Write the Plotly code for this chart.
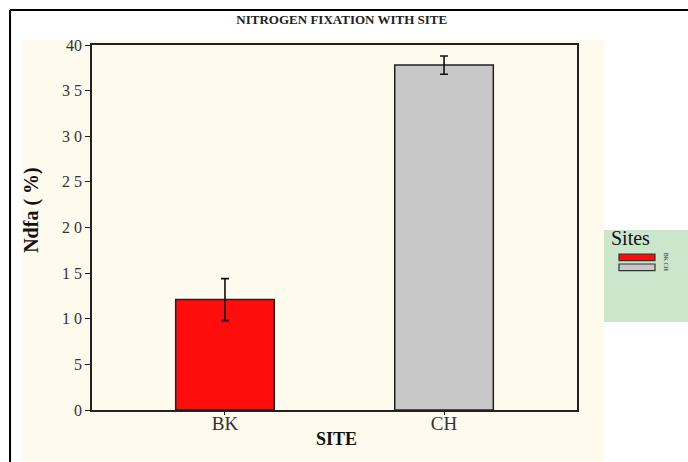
import plotly.graph_objects as go

# Ndfa by site
sites = ["BK", "CH"]
ndfa = [12.1, 37.8]
ndfa_err = [2.3, 1.0]
bar_colors = ["#FF0D0D", "#C8C8C8"]
y_tickvals = [0, 5, 10, 15, 20, 25, 30, 35, 40]
y_ticktext = ["0", "5", "1 0", "1 5", "2 0", "2 5", "3 0", "3 5", "40"]

serif = "Liberation Serif, Times New Roman, serif"

fig = go.Figure()
fig.add_trace(go.Bar(
    x=sites, y=ndfa, width=0.45,
    marker=dict(color=bar_colors, line=dict(color="#222222", width=1.5)),
    error_y=dict(type="data", array=ndfa_err, color="#111111", thickness=1.6, width=4),
    showlegend=False,
))

shapes = [
    # cream panel behind the chart
    dict(type="rect", xref="paper", yref="paper", x0=-0.144, x1=1.058, y0=-0.15, y1=1.0137,
         fillcolor="#FFF9EE", line=dict(width=0), layer="below"),
    # outer frame
    dict(type="line", xref="paper", yref="paper", x0=-0.169, x1=1.25, y0=1.0959, y1=1.0959,
         line=dict(color="black", width=2)),
    dict(type="line", xref="paper", yref="paper", x0=-0.169, x1=-0.169, y0=-0.15, y1=1.0959,
         line=dict(color="black", width=2)),
    # legend panel
    dict(type="rect", xref="paper", yref="paper", x0=1.0557, x1=1.25, y0=0.241, y1=0.493,
         fillcolor="#CBE6CB", line=dict(width=0)),
]
annotations = [
    dict(text="Sites", xref="paper", yref="paper", x=1.066, y=0.471, xanchor="left",
         yanchor="middle", showarrow=False,
         font=dict(family=serif, size=20, color="#111111")),
    dict(text="<b>Ndfa ( %)</b>", xref="paper", yref="paper", x=-0.124, y=0.548,
         xanchor="center", yanchor="middle", showarrow=False, textangle=-90,
         font=dict(family=serif, size=20, color="#111111")),
    dict(text="<b>SITE</b>", xref="paper", yref="paper", x=0.504, y=-0.08,
         xanchor="center", yanchor="middle", showarrow=False,
         font=dict(family=serif, size=18, color="#111111")),
]
sw_top = 0.427
for i, (s, c) in enumerate(zip(sites, bar_colors)):
    y1 = sw_top - i * 0.027
    y0 = y1 - 0.018
    shapes.append(dict(type="rect", xref="paper", yref="paper", x0=1.0866, x1=1.1608,
                       y0=y0, y1=y1, fillcolor=c, line=dict(color="#333333", width=1.2)))
    annotations.append(dict(text=s, xref="paper", yref="paper", x=1.183, y=(y0 + y1) / 2,
                            xanchor="center", yanchor="middle", showarrow=False,
                            textangle=90, font=dict(family=serif, size=6, color="#222222")))

fig.update_layout(
    width=688, height=462,
    margin=dict(l=92, r=111, t=45, b=52),
    paper_bgcolor="white",
    plot_bgcolor="#FFF9EE",
    title=dict(text="<b>NITROGEN FIXATION WITH SITE</b>", xref="paper", x=0.515,
               xanchor="center", y=0.957, yanchor="middle",
               font=dict(family=serif, size=13, color="#222222")),
    xaxis=dict(
        range=[-0.607, 1.607], showline=True, linecolor="#222222", linewidth=1.5,
        mirror=True, ticks="outside", ticklen=3, tickcolor="#222222",
        ticklabelstandoff=-8,
        tickfont=dict(family=serif, size=19, color="#333333"),
        showgrid=False, zeroline=False,
    ),
    yaxis=dict(
        range=[0, 40], tickvals=y_tickvals, ticktext=y_ticktext,
        showline=True, linecolor="#222222", linewidth=1.5, mirror=True,
        ticks="outside", ticklen=5, tickcolor="#222222",
        tickfont=dict(family=serif, size=16, color="#333333"),
        showgrid=False, zeroline=False,
    ),
    shapes=shapes,
    annotations=annotations,
)

fig.write_html("out.html")
